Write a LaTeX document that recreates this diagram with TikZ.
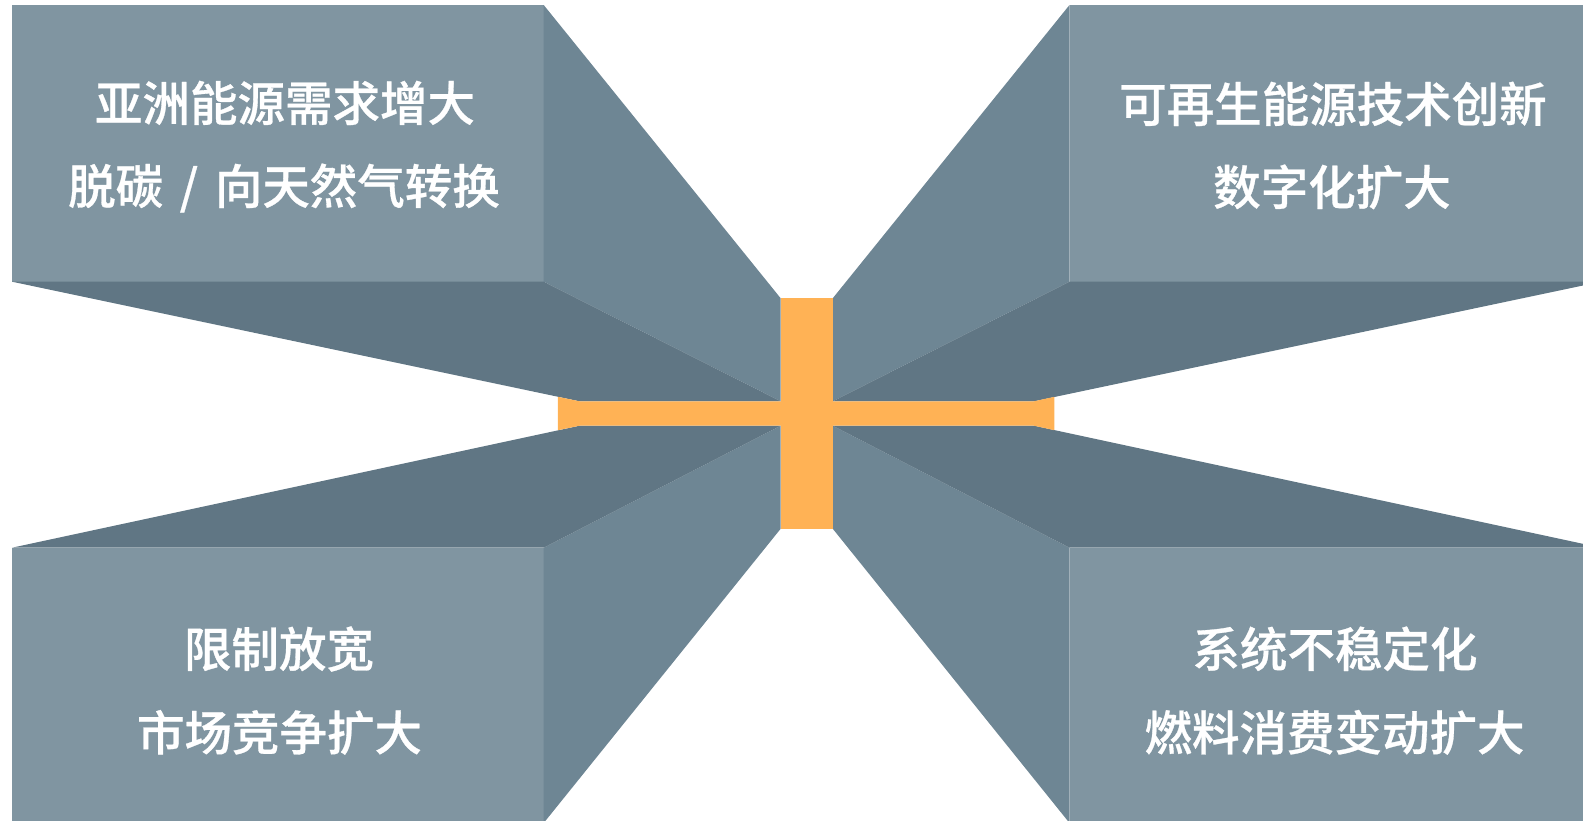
\documentclass[tikz,border=0pt]{standalone}
\usepackage{fontspec}
\IfFontExistsTF{Noto Sans CJK SC Medium}
  {\newfontfamily\cjk{Noto Sans CJK SC Medium}[FakeBold=0.6]}
  {\newfontfamily\cjk{Noto Sans CJK SC}[FakeBold=2.2]}
\definecolor{faceFront}{RGB}{128,149,161}
\definecolor{faceSide}{RGB}{110,134,148}
\definecolor{faceDark}{RGB}{96,118,132}
\definecolor{barOrange}{RGB}{255,178,85}
\tikzset{
  front/.style={fill=faceFront},
  side/.style={fill=faceSide},
  dark/.style={fill=faceDark},
  bar/.style={fill=barOrange},
  lbl/.style={text=white, anchor=base, inner sep=0pt, font=\cjk\fontsize{47.5}{50}\selectfont}
}
\begin{document}
\begin{tikzpicture}[x=1pt,y=-1pt]
\useasboundingbox (0,0) rectangle (1583,820);
\clip (0,0) rectangle (1583,820);
% top-left block
\path[front] (12,5) rectangle (543.7,281.7);
\path[side] (543.7,5) -- (780.7,298.3) -- (780.7,401.3) -- (543.7,281.7) -- cycle;
\path[dark] (12,281.7) -- (543.7,281.7) -- (780.7,401.3) -- (579.6,401.3) -- cycle;
% top-right block
\path[front] (1069.5,5) rectangle (1601,281.7);
\path[side] (1069.5,5) -- (832.7,298.3) -- (832.7,401.3) -- (1069.5,281.7) -- cycle;
\path[dark] (1601,281.7) -- (1069.5,281.7) -- (832.7,401.3) -- (1034,401.3) -- cycle;
% bottom-left block
\path[front] (12,547.7) rectangle (543.7,830);
\path[side] (543.7,547.7) -- (780.7,425.7) -- (780.7,528.7) -- (543.7,823) -- cycle;
\path[dark] (12,547.7) -- (543.7,547.7) -- (780.7,425.7) -- (579.6,425.7) -- cycle;
% bottom-right block
\path[front] (1069.5,547.7) rectangle (1601,830);
\path[side] (1069.5,547.7) -- (832.7,425.7) -- (832.7,528.7) -- (1069.5,823) -- cycle;
\path[dark] (1601,547.7) -- (1069.5,547.7) -- (832.7,425.7) -- (1034,425.7) -- cycle;
% orange cross
\path[bar] (557.9,396.8) -- (579.6,401.3) -- (1034,401.3) -- (1054.4,396.8) -- (1054.4,430.2) -- (1034,425.7) -- (579.6,425.7) -- (557.9,430.2) -- cycle;
\path[bar] (780.7,298.3) rectangle (832.7,528.7);
% labels
\node[lbl] (tl1) at (285,121) {亚洲能源需求增大};
\node[lbl] (tl2) at (284,204) {脱碳\hspace{0.35em}/\hspace{0.35em}向天然气转换};
\node[lbl] (tr1) at (1333,122) {可再生能源技术创新};
\node[lbl] (tr2) at (1332,205) {数字化扩大};
\node[lbl] (bl1) at (279,667) {限制放宽};
\node[lbl] (bl2) at (279.5,750.5) {市场竞争扩大};
\node[lbl] (br1) at (1335,667) {系统不稳定化};
\node[lbl] (br2) at (1334.5,750.5) {燃料消费变动扩大};
\end{tikzpicture}
\end{document}
